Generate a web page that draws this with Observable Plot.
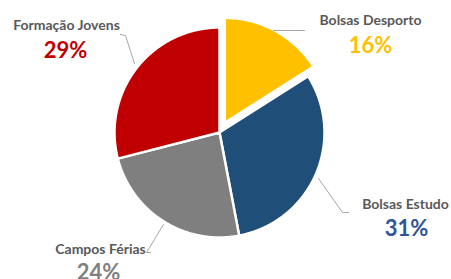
<!DOCTYPE html>
<html><head><meta charset="utf-8">
<script src="https://cdn.jsdelivr.net/npm/d3@7"></script>
<script src="https://cdn.jsdelivr.net/npm/@observablehq/plot@0.6"></script>
<style>body{margin:0;background:#fff;overflow:hidden}</style>
</head><body><div id="chart"></div>
<script>
const categories = ["Bolsas Desporto", "Bolsas Estudo", "Campos Férias", "Formação Jovens"];
const values = [16, 31, 24, 29];
const percentLabels = ["16%", "31%", "24%", "29%"];
const sliceColors = ["#FFC000", "#1F4E79", "#7F7F7F", "#C00000"];
const valueColors = ["#FFC000", "#2F5597", "#7F7F7F", "#C00000"];
const explode = [11, 0, 0, 0];

// layout (pixels)
const W = 451, H = 279, cx = 219, cy = 132, R = 105;
const namePos = [[370, 20], [405, 204], [100, 249], [66, 25]];
const pctPos = [[370, 45], [406, 228], [98, 272], [65, 50]];
const leaders = [
  [[273, 30], [304, 30]],
  [[318, 178], [342, 212], [348, 212]],
  [[163, 224], [146, 252], [150, 252]],
  [[120, 34], [125, 35], [134, 63]]
];

const arcs = d3.pie().sort(null).value(d => d)(values);
const slices = [];
arcs.forEach((p, i) => {
  const mid = (p.startAngle + p.endAngle) / 2;
  const ox = explode[i] * Math.sin(mid), oy = -explode[i] * Math.cos(mid);
  slices.push({name: categories[i], x: ox, y: oy});
  const n = Math.max(2, Math.ceil((p.endAngle - p.startAngle) / (Math.PI / 360)));
  for (let k = 0; k <= n; k++) {
    const a = p.startAngle + (p.endAngle - p.startAngle) * k / n;
    slices.push({name: categories[i], x: ox + R * Math.sin(a), y: oy - R * Math.cos(a)});
  }
  slices.push({name: categories[i], x: ox, y: oy});
});

const nameData = categories.map((c, i) => ({name: c, x: namePos[i][0] - cx, y: namePos[i][1] - cy}));
const pctData = categories.map((c, i) => ({name: c, label: percentLabels[i], color: valueColors[i], x: pctPos[i][0] - cx, y: pctPos[i][1] - cy}));
const leaderData = [];
leaders.forEach((pts, i) => pts.forEach(([x, y]) => leaderData.push({name: categories[i], x: x - cx, y: y - cy})));

const chart = Plot.plot({
  width: W, height: H,
  margin: 0,
  style: {background: "#fff", fontFamily: "Lato, 'Open Sans', sans-serif"},
  x: {domain: [-cx, W - cx], range: [0, W], axis: null},
  y: {domain: [-cy, H - cy], range: [0, H], axis: null},
  color: {domain: categories, range: sliceColors},
  marks: [
    Plot.line(slices, {x: "x", y: "y", z: "name", fill: "name", stroke: "white", strokeWidth: 2.5, curve: "linear"}),
    Plot.line(leaderData, {x: "x", y: "y", z: "name", stroke: "#A6A6A6", strokeWidth: 1}),
    Plot.text(nameData, {x: "x", y: "y", text: "name", fill: "#595959", fontSize: 14, fontWeight: "bold", textAnchor: "middle", lineAnchor: "middle"}),
    Plot.text(pctData, {x: "x", y: "y", text: "label", fill: d => d.color, fontSize: 22, fontWeight: "bold", textAnchor: "middle", lineAnchor: "middle"})
  ]
});
document.getElementById("chart").appendChild(chart);
</script>
</body></html>
